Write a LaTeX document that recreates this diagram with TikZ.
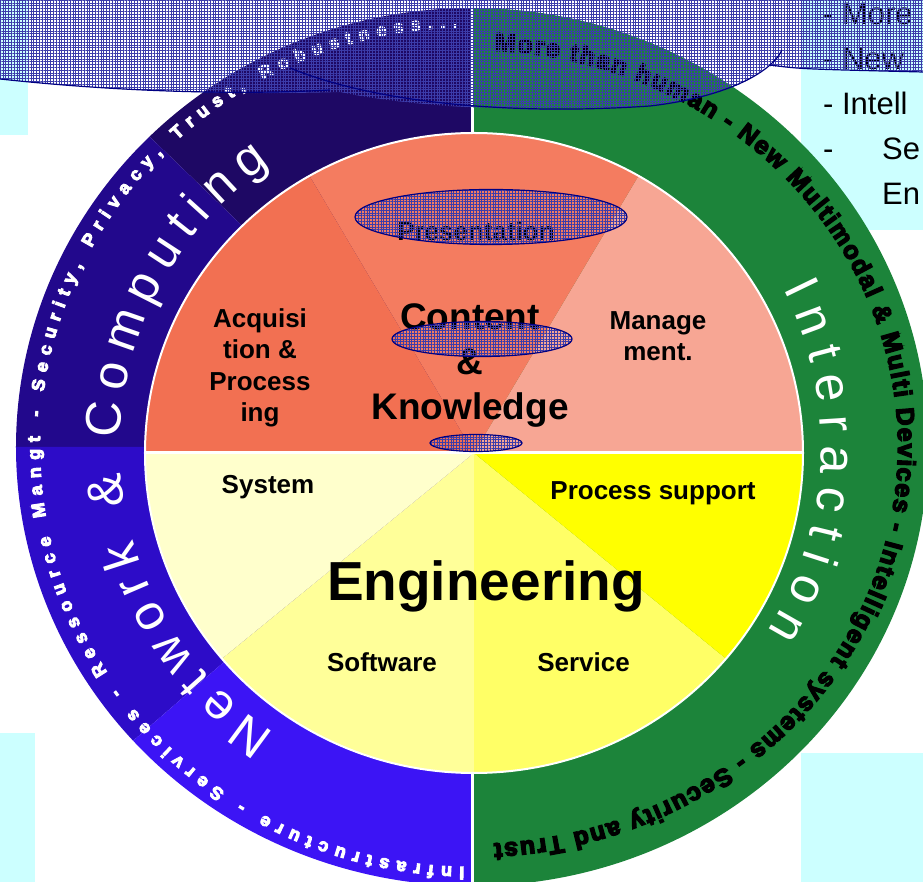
\documentclass[tikz,border=0pt]{standalone}
\usepackage{fontspec}
\setmainfont{Liberation Sans}
\usepackage{xcolor}
\usepackage{tikz}
\usetikzlibrary{positioning, shapes.geometric, decorations.text, patterns.meta}

\definecolor{ringA}{RGB}{30,8,100}
\definecolor{ringB}{RGB}{34,8,140}
\definecolor{ringC}{RGB}{45,12,200}
\definecolor{ringD}{RGB}{60,20,245}
\definecolor{ringG}{RGB}{28,132,58}
\definecolor{coralA}{RGB}{242,112,82}
\definecolor{coralB}{RGB}{244,124,96}
\definecolor{salmon}{RGB}{247,166,148}
\definecolor{sysY}{RGB}{255,255,204}
\definecolor{softY}{RGB}{255,255,153}
\definecolor{servY}{RGB}{255,255,102}
\definecolor{procY}{RGB}{255,255,0}
\definecolor{boxcyan}{RGB}{204,255,255}
\definecolor{hatchblue}{RGB}{60,60,170}
\definecolor{ovalblue}{RGB}{0,0,130}

% thicker glyphs: fill and stroke the text
\newcommand{\heavyink}[1]{\special{pdf:literal direct 2 Tr #1 w}}
\newcommand{\plainink}{\special{pdf:literal direct 0 Tr}}

\tikzset{
wedgelabel/.style={
    font=\bfseries\fontsize{26}{31.5}\selectfont,
    align=center,
    inner sep=0pt
},
noteline/.style={
    anchor=base west,
    inner sep=0pt,
    font=\fontsize{31}{37}\selectfont
},
hatchfill/.style={
    pattern={Hatch[distance=2.8pt, line width=0.45pt]},
    pattern color=hatchblue
},
hatchoval/.style={
    ellipse,
    hatchfill,
    draw=ovalblue,
    line width=1.2pt,
    inner sep=0pt
},
ringtext/.style={
    decorate,
    decoration={text along path, text align=fit to path, text={#1}}
}}

\begin{document}
\begin{tikzpicture}[x=1pt, y=1pt, node distance=100pt]
    \useasboundingbox (-472,-435) rectangle (451,447);
    \coordinate (O) at (0,0);
    \coordinate (C) at (2,-6);

    % background boxes
    \fill[boxcyan] (-472,447) rectangle (-444,312);
    \fill[boxcyan] (329,447) rectangle (451,217);
    \fill[boxcyan] (-472,-286) rectangle (-437,-435);
    \fill[boxcyan] (329,-306) rectangle (451,-435);

    % outer ring
    \fill[ringA] (O) -- (90:456pt and 439pt) arc[start angle=90, end angle=135, x radius=456pt, y radius=439pt] -- cycle;
    \fill[ringB] (O) -- (135:456pt and 439pt) arc[start angle=135, end angle=180, x radius=456pt, y radius=439pt] -- cycle;
    \fill[ringC] (O) -- (180:456pt and 439pt) arc[start angle=180, end angle=222, x radius=456pt, y radius=439pt] -- cycle;
    \fill[ringD] (O) -- (222:456pt and 439pt) arc[start angle=222, end angle=270, x radius=456pt, y radius=439pt] -- cycle;
    \fill[ringG] (O) -- (-90:456pt and 439pt) arc[start angle=-90, end angle=90, x radius=456pt, y radius=439pt] -- cycle;
    \draw[white, line width=3pt] (0,-440) -- (0,440);

    % inner wheel
    \fill[salmon] (C) -- ++(0:329pt and 320pt) arc[start angle=0, end angle=60, x radius=329pt, y radius=320pt] -- cycle;
    \fill[coralB] (C) -- ++(60:329pt and 320pt) arc[start angle=60, end angle=120, x radius=329pt, y radius=320pt] -- cycle;
    \fill[coralA] (C) -- ++(120:329pt and 320pt) arc[start angle=120, end angle=180, x radius=329pt, y radius=320pt] -- cycle;
    \fill[sysY] (C) -- ++(180:329pt and 320pt) arc[start angle=180, end angle=220, x radius=329pt, y radius=320pt] -- cycle;
    \fill[softY] (C) -- ++(220:329pt and 320pt) arc[start angle=220, end angle=270, x radius=329pt, y radius=320pt] -- cycle;
    \fill[servY] (C) -- ++(270:329pt and 320pt) arc[start angle=270, end angle=320, x radius=329pt, y radius=320pt] -- cycle;
    \fill[procY] (C) -- ++(320:329pt and 320pt) arc[start angle=320, end angle=360, x radius=329pt, y radius=320pt] -- cycle;
    \draw[white, line width=2pt] (C) ellipse[x radius=329pt, y radius=320pt];
    \draw[white, line width=3pt] (C) ++(-329,0) -- ++(658,0);

    % node placement
    \node[wedgelabel] (present) at (4,216) {Presentation};
    \node[wedgelabel, font=\bfseries\fontsize{37}{45}\selectfont] (content) at (-2,81) {Content\\\&\\Knowledge};
    \node[wedgelabel] (acquis) at (-212,79) {Acquisi\\tion \&\\Process\\ing};
    \node[wedgelabel] (manage) at (186,111) {Manage\\ment.};
    \node[wedgelabel] (system) at (-204,-40) {System};
    \node[wedgelabel] (procsupp) at (181,-46) {Process support};
    \node[wedgelabel] (software) at (-90,-215) {Software};
    \node[wedgelabel, right=of software] (service) {Service};
    \node[wedgelabel, font=\bfseries\fontsize{55}{66}\selectfont] (engineer) at (14,-139) {Engineering};

    \node[noteline] (more) at (351,422) {- More};
    \node[noteline] (new) at (351,377) {- New};
    \node[noteline] (intell) at (351,332) {- Intell};
    \node[noteline] (dash) at (351,287) {-};
    \node[noteline] (se) at (410,287) {Se};
    \node[noteline] (en) at (410,242) {En};

    % ring texts
    \path[ringtext={|\fontsize{50}{50}\selectfont\color{white}|Network {\&} Computing}]
        (236:352pt and 345pt) arc[start angle=236, end angle=125, x radius=352pt, y radius=345pt];
    \path[ringtext={|\fontsize{50}{50}\selectfont\color{white}|Interaction}]
        (27:349pt) arc[start angle=27, end angle=-32, radius=349pt];
    \path[ringtext={|\bfseries\fontsize{18}{18}\selectfont\color{white}\heavyink{1}|Infrastructure - Services - Ressource Mangt - Security, Privacy, Trust, Robustness...}]
        (269:432pt and 420pt) arc[start angle=269, end angle=92, x radius=432pt, y radius=420pt];
    \path[ringtext={|\bfseries\fontsize{25}{25}\selectfont\heavyink{1.4}|More than human - New Multimodal {\&} Multi Devices - Intelligent systems - Security and Trust}]
        (87:426pt and 397pt) arc[start angle=87, end angle=-87, x radius=426pt, y radius=397pt];
    \plainink

    % overlays
    \node[hatchoval, minimum width=272pt, minimum height=55pt] (presoval) at (19,230) {};
    \node[hatchoval, minimum width=180pt, minimum height=35pt] (contoval) at (10,108) {};
    \node[hatchoval, minimum width=92pt, minimum height=17pt] (dotoval) at (4,4) {};

    \fill[hatchfill]
        (-472,447) -- (-472,368) .. controls (-352,355) and (-232,352) .. (-132,355)
        .. controls (-72,342) and (48,332) .. (178,341)
        .. controls (248,349) and (283,367) .. (294,381)
        .. controls (328,379) .. (451,375) -- (451,447) -- cycle;
    \draw[ovalblue, line width=1.2pt] (-472,368) .. controls (-352,355) and (-232,352) .. (-142,357);
    \draw[ovalblue, line width=1.2pt] (-182,379) .. controls (-92,342) and (48,332) .. (178,341)
        .. controls (248,349) and (298,372) .. (310,397);
    \draw[ovalblue, line width=1.2pt] (298,382) .. controls (328,378) .. (451,375);

\end{tikzpicture}
\end{document}
